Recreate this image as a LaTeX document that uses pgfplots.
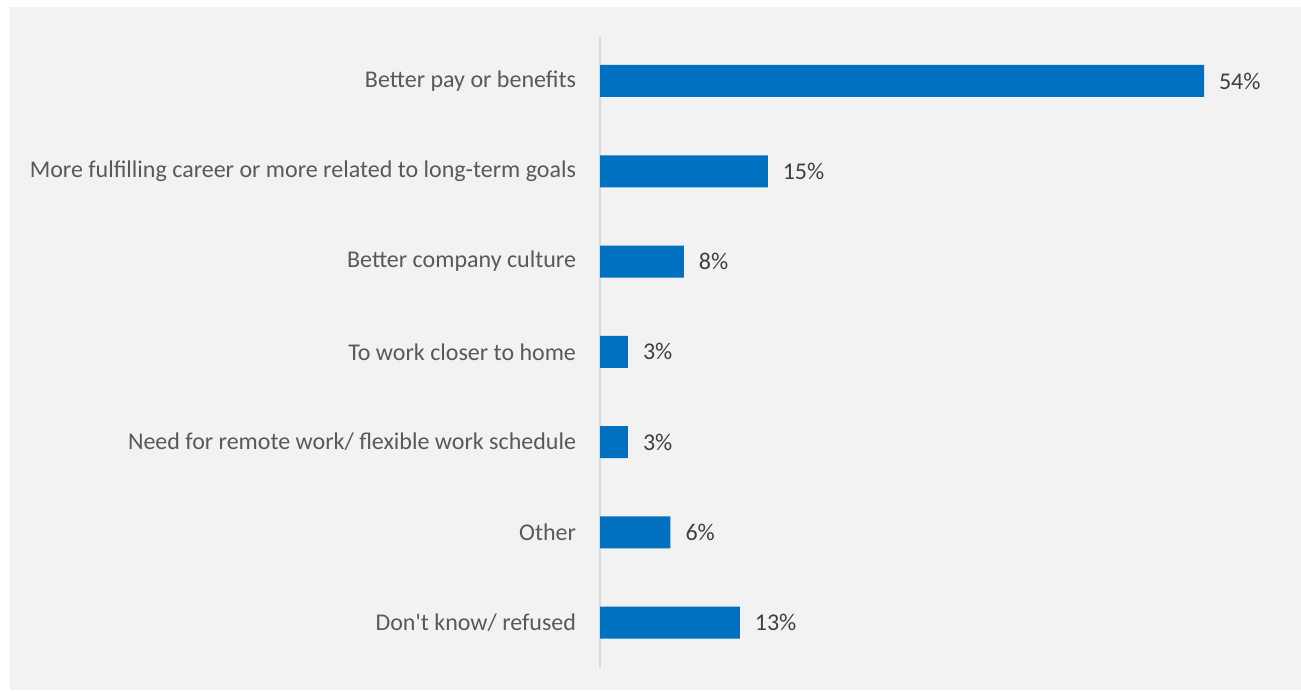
\documentclass[border=0pt]{standalone}
\usepackage{pgfplots}
\pgfplotsset{compat=1.18}
\usepackage{fontspec}
\setmainfont{Carlito}[Ligatures=TeXOff]
\definecolor{barblue}{HTML}{0070C0}
\definecolor{panel}{HTML}{F2F2F2}
\definecolor{lbl}{HTML}{595959}
\definecolor{vlbl}{HTML}{404040}
\definecolor{axl}{HTML}{D9D9D9}
\begin{document}
\begin{tikzpicture}
\fill[white] (0,0) rectangle (650.5bp,346bp);
\fill[panel] (5bp,1bp) rectangle (650.5bp,342.5bp);
\useasboundingbox (0,0) rectangle (650.5bp,346bp);
\begin{axis}[
  at={(300bp,305.5bp)}, anchor=origin,
  scale only axis,
  width=302bp, height=315.5bp,
  xmin=0, xmax=54,
  ymin=-0.49, ymax=6.5,
  y dir=reverse,
  hide x axis,
  axis y line*=left,
  y axis line style={-, draw=axl, line width=0.8bp},
  ytick={0,...,6},
  yticklabels={Better pay or benefits,More fulfilling career or more related to long-term goals,Better company culture,To work closer to home,Need for remote work/ flexible work schedule,Other,Don't know/ refused},
  major tick length=0pt,
  yticklabel style={font=\fontsize{12bp}{14.4bp}\selectfont, text=lbl, xshift=-8.5bp},
  xbar, bar width=16bp,
  point meta=explicit symbolic,
  nodes near coords={\pgfplotspointmeta\%},
  nodes near coords style={anchor=west, font=\fontsize{12bp}{14.4bp}\selectfont, text=vlbl, xshift=4bp},
  clip=false,
]
\addplot[fill=barblue, draw=none] coordinates {
  (54,0) [54]
  (15,1) [15]
  (7.5,2) [8]
  (2.5,3) [3]
  (2.5,4) [3]
  (6.3,5) [6]
  (12.5,6) [13]
};
\end{axis}
\end{tikzpicture}
\end{document}
